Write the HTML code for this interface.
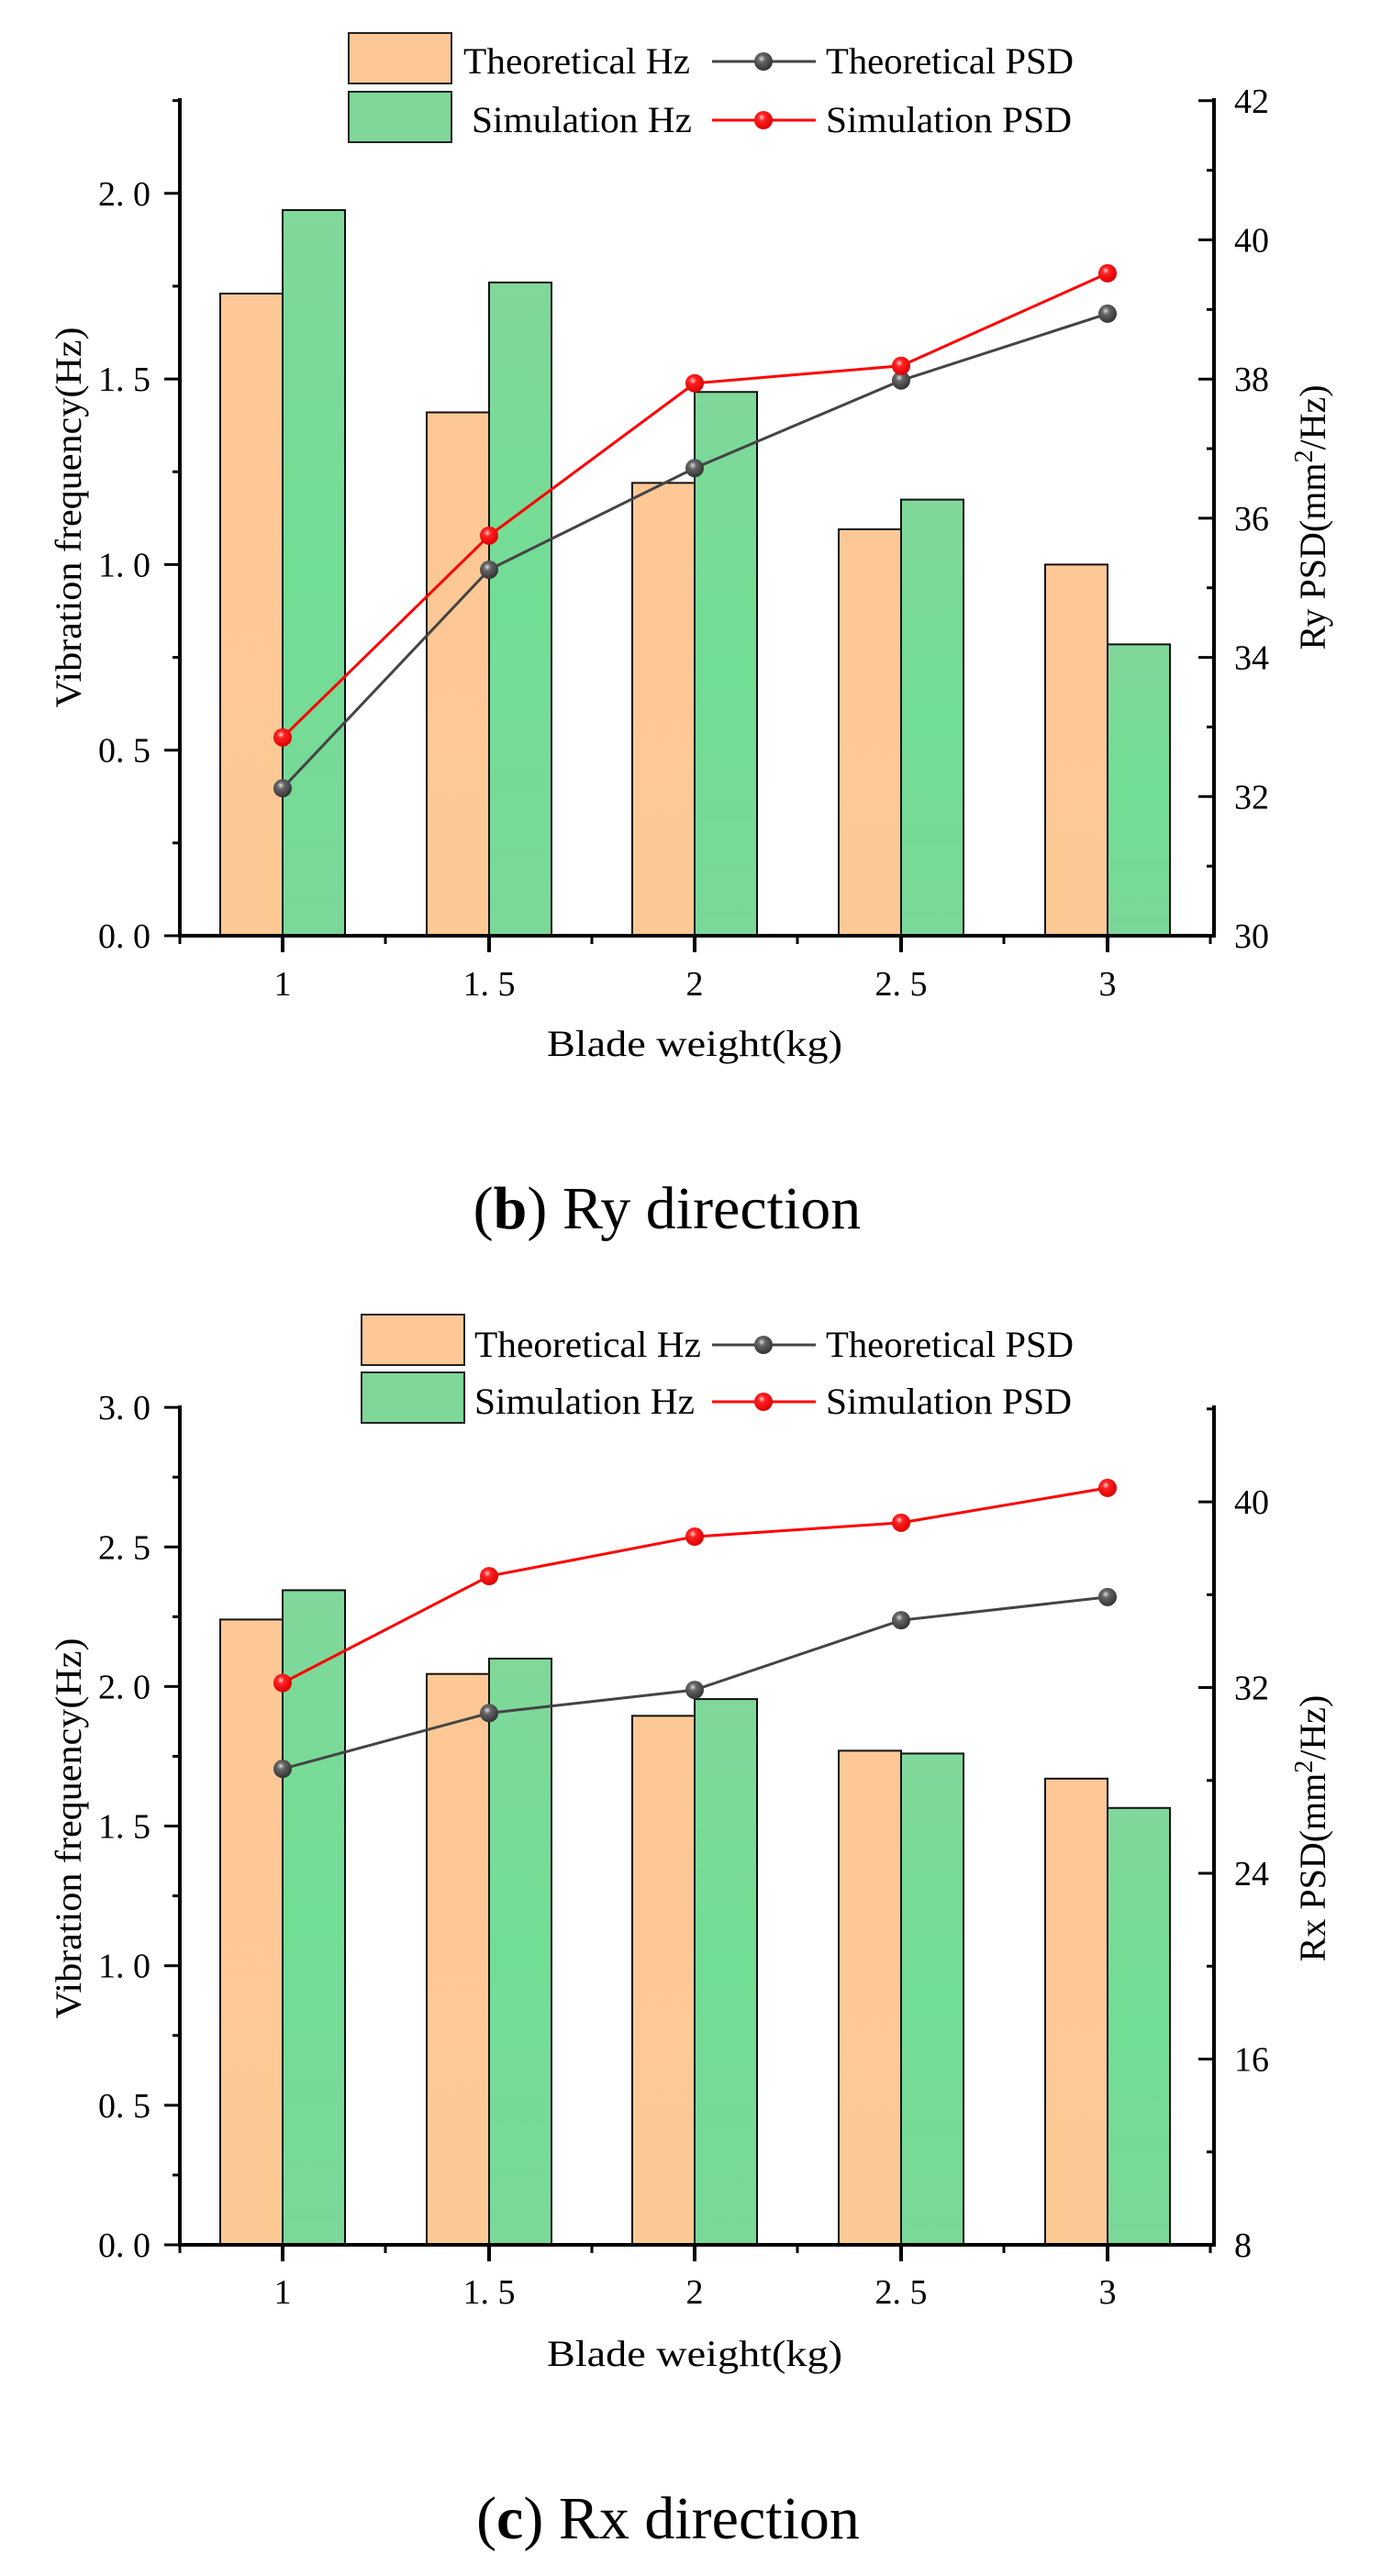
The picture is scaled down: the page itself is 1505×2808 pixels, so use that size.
<!DOCTYPE html>
<html><head><meta charset="utf-8"><style>
html,body{margin:0;padding:0;background:#fff;}
svg{display:block;font-family:"Liberation Serif","Noto Serif CJK SC",serif;}
</style></head><body>
<svg id="s" width="1505" height="2808" viewBox="0 0 1505 2808" xmlns="http://www.w3.org/2000/svg">
<defs>
<linearGradient id="go" x1="0" y1="0" x2="0" y2="1"><stop offset="0" stop-color="#FEC896"/><stop offset="1" stop-color="#FCC995"/></linearGradient>
<linearGradient id="gg" x1="0" y1="0" x2="0" y2="1"><stop offset="0" stop-color="#80D89A"/><stop offset="0.5" stop-color="#72DD95"/><stop offset="1" stop-color="#7AD898"/></linearGradient>
<radialGradient id="mk" cx="0.4" cy="0.35" r="0.65"><stop offset="0" stop-color="#ddd"/><stop offset="0.3" stop-color="#666"/><stop offset="1" stop-color="#333"/></radialGradient>
<radialGradient id="mr" cx="0.4" cy="0.35" r="0.65"><stop offset="0" stop-color="#fcc"/><stop offset="0.3" stop-color="#f22"/><stop offset="1" stop-color="#d00"/></radialGradient>
</defs>
</svg>
<script>
var S=document.getElementById('s'),NS='http://www.w3.org/2000/svg';
function el(t,a,txt){var e=document.createElementNS(NS,t);for(var k in a)e.setAttribute(k,a[k]);if(txt!=null)e.textContent=txt;S.appendChild(e);return e;}
function ln(x1,y1,x2,y2,w,c){el('line',{x1:x1,y1:y1,x2:x2,y2:y2,stroke:c||'#000','stroke-width':w});}
var cx=[308,533,757,982,1207],xl=['1','1. 5','2','2. 5','3'];
function chart(o){
 var L=196,R=1323,B=o.base,T=o.top;
 // bars
 for(var i=0;i<5;i++){
  var y1=B-o.th[i]*o.ls,y2=B-o.sh[i]*o.ls;
  el('rect',{x:cx[i]-68,y:y1,width:68,height:B-y1,fill:'url(#go)',stroke:'#111','stroke-width':2});
  el('rect',{x:cx[i],y:y2,width:68,height:B-y2,fill:'url(#gg)',stroke:'#111','stroke-width':2});
 }
 // lines
 function py(v){return B-(v-o.rmin)*o.rs;}
 [[o.tp,'#444','url(#mk)'],[o.sp,'#f00','url(#mr)']].forEach(function(s){
  var p=s[0].map(function(v,i){return cx[i]+','+py(v);}).join(' ');
  el('polyline',{points:p,fill:'none',stroke:s[1],'stroke-width':3});
  s[0].forEach(function(v,i){el('circle',{cx:cx[i],cy:py(v),r:10,fill:s[2]});});
 });
 // axes
 ln(L,T-2,L,B+2,4);ln(R,T-2,R,B+2,4);ln(L-2,B,R+2,B,4);
 // left ticks
 for(var v=0;v<=o.lmax+1e-9;v+=0.25){var y=B-v*o.ls;var maj=Math.abs(v*2-Math.round(v*2))<1e-6;
  ln(L-(maj?17:8),y,L,y,3);
  if(maj&&v<=o.lmaxLab+1e-9)el('text',{x:L-32,y:y+13,'font-size':38,'text-anchor':'end'},v.toFixed(1).replace('.','. '));}
 // right ticks
 for(var v=o.rmin;v<=o.rmax+1e-9;v+=o.rminor){var y=py(v);var maj=Math.abs((v-o.rmin)%o.rmajor)<1e-6;
  ln(R-(maj?17:8),y,R,y,3);
  if(maj&&v<=o.rmaxLab)el('text',{x:R+22,y:y+13,'font-size':38},String(v));}
 // x ticks
 var xt=[196,420,645,869,1094,1319];
 xt.forEach(function(x){ln(x,B,x,B+9,3);});
 cx.forEach(function(x,i){ln(x,B,x,B+18,4);el('text',{x:x,y:o.xly+13,'font-size':38,'text-anchor':'middle'},xl[i]);});
 el('text',{x:757,y:o.xty+13,'font-size':40,'text-anchor':'middle',textLength:322,lengthAdjust:'spacingAndGlyphs'},'Blade weight(kg)');
 el('text',{x:0,y:0,'font-size':40,'text-anchor':'middle',transform:'translate(88,'+o.ylc+') rotate(-90)',textLength:415,lengthAdjust:'spacingAndGlyphs'},'Vibration frequency(Hz)');
 var t=el('text',{x:0,y:0,'font-size':40,'text-anchor':'middle',transform:'translate(1444,'+o.ylc+') rotate(-90)'});
 t.innerHTML=o.rlab+' PSD(mm<tspan font-size="28" dy="-14">2</tspan><tspan dy="14">/Hz)</tspan>';
 // legend
 var g=o.leg;
 el('rect',{x:g.bx,y:g.y1,width:112,height:55,fill:'#FEC896',stroke:'#222','stroke-width':2});
 el('rect',{x:g.bx,y:g.y2,width:112,height:55,fill:'#7FD799',stroke:'#222','stroke-width':2});
 el('text',{x:g.tx,y:g.c1+13,'font-size':40,textLength:247,lengthAdjust:'spacingAndGlyphs'},'Theoretical Hz');
 el('text',{x:g.tx+g.sd,y:g.c2+13,'font-size':40,textLength:240,lengthAdjust:'spacingAndGlyphs'},'Simulation Hz');
 ln(776,g.c1,889,g.c1,3,'#444');el('circle',{cx:832,cy:g.c1,r:10,fill:'url(#mk)'});
 ln(776,g.c2,889,g.c2,3,'#f00');el('circle',{cx:832,cy:g.c2,r:10,fill:'url(#mr)'});
 el('text',{x:900,y:g.c1+13,'font-size':40,textLength:270,lengthAdjust:'spacingAndGlyphs'},'Theoretical PSD');
 el('text',{x:900,y:g.c2+13,'font-size':40,textLength:268,lengthAdjust:'spacingAndGlyphs'},'Simulation PSD');
 var c=el('text',{x:o.capx,y:o.capy+22,'font-size':66,'text-anchor':'middle'});
 c.innerHTML='(<tspan font-weight="bold">'+o.cl+'</tspan>) '+o.cn+' direction';
}
chart({base:1020,top:109,ls:404.6,lmax:2.25,lmaxLab:2.0,th:[1.73,1.41,1.22,1.095,1.0],sh:[1.955,1.76,1.465,1.175,0.785],
 rmin:30,rmax:42,rmaxLab:42,rmajor:2,rminor:1,rs:75.85,tp:[32.12,35.26,36.72,37.98,38.94],sp:[32.85,35.75,37.94,38.19,39.52],
 xly:1072,xty:1138,ylc:564,rlab:'Ry',leg:{bx:380,y1:36,y2:100,tx:505,sd:9,c1:67,c2:131},capx:727,capy:1317,cl:'b',cn:'Ry'});
chart({base:2447,top:1534,ls:304.3,lmax:3.0,lmaxLab:3.0,th:[2.24,2.045,1.895,1.77,1.67],sh:[2.345,2.1,1.955,1.76,1.565],
 rmin:8,rmax:44,rmaxLab:40,rmajor:8,rminor:4,rs:25.31,tp:[28.5,30.9,31.9,34.9,35.9],sp:[32.2,36.8,38.5,39.1,40.6],
 xly:2498,xty:2566,ylc:1993,rlab:'Rx',leg:{bx:394,y1:1433,y2:1496,tx:517,sd:0,c1:1466,c2:1528},capx:728,capy:2745,cl:'c',cn:'Rx'});
</script>
</body></html>
